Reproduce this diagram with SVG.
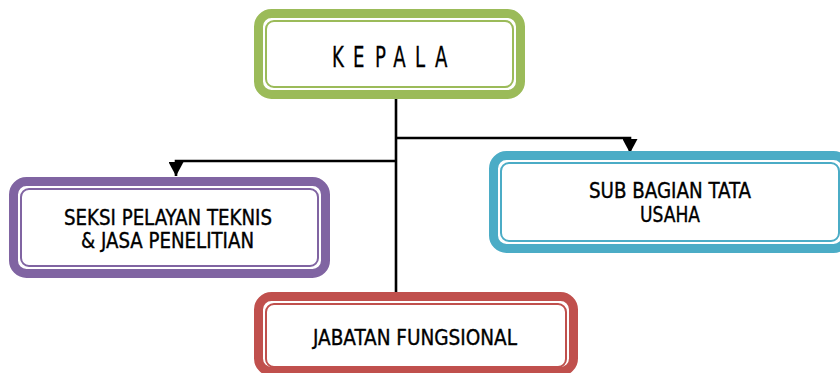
<svg xmlns="http://www.w3.org/2000/svg" width="840" height="373" viewBox="0 0 840 373">
<style>
.band{fill:#fff;stroke-width:9}
.thin{fill:none;stroke-width:2}
.g{stroke:#9BBB59}.p{stroke:#8064A2}.t{stroke:#4BACC6}.r{stroke:#C0504D}
.lbl{font-family:"Liberation Sans Narrow","DejaVu Sans Condensed","Liberation Sans",sans-serif;font-size:20.5px;fill:#000;stroke:#000;stroke-width:0.35}
.conn{fill:none;stroke:#000;stroke-width:2.6}
</style>
<defs>
<marker id="ah" viewBox="0 0 14 15" refX="14" refY="7.5" markerWidth="14" markerHeight="15" orient="auto" markerUnits="userSpaceOnUse">
<path d="M0,0 L14,7.5 L0,15 z" fill="#000"/>
</marker>
</defs>
<g id="connectors">
<path class="conn" d="M396,99 V293"/>
<path class="conn" d="M396,138 H630 V153" marker-end="url(#ah)"/>
<path class="conn" d="M396,161 H176 V176" marker-end="url(#ah)"/>
</g>
<g id="kepala">
<rect class="band g" x="258.5" y="13.5" width="262" height="81" rx="13"/>
<rect class="thin g" x="266" y="21" width="247" height="66" rx="8"/>
<text class="lbl" style="font-size:28px;stroke-width:0.3" transform="translate(332,66.7) scale(0.72,1)"><tspan x="0 29.2 59.7 85 115.3 143" y="0">KEPALA</tspan></text>
</g>
<g id="seksi">
<rect class="band p" x="13.5" y="181.5" width="312" height="92" rx="13"/>
<rect class="thin p" x="21" y="189" width="297" height="77" rx="8"/>
<text class="lbl" x="64" y="225" textLength="208" lengthAdjust="spacingAndGlyphs">SEKSI PELAYAN TEKNIS</text>
<text class="lbl" x="81" y="248" textLength="173" lengthAdjust="spacingAndGlyphs">&amp; JASA PENELITIAN</text>
</g>
<g id="subbagian">
<rect class="band t" x="493.5" y="155.5" width="353" height="93" rx="13"/>
<rect class="thin t" x="501" y="163" width="338" height="78" rx="8"/>
<text class="lbl" x="589" y="198" textLength="162" lengthAdjust="spacingAndGlyphs">SUB BAGIAN TATA</text>
<text class="lbl" x="640" y="221.5" textLength="60" lengthAdjust="spacingAndGlyphs">USAHA</text>
</g>
<g id="jabatan">
<rect class="band r" x="258.5" y="296.5" width="315" height="75" rx="13"/>
<rect class="thin r" x="266" y="304" width="300" height="63" rx="8"/>
<text class="lbl" x="313" y="345" textLength="204" lengthAdjust="spacingAndGlyphs">JABATAN FUNGSIONAL</text>
</g>
</svg>
